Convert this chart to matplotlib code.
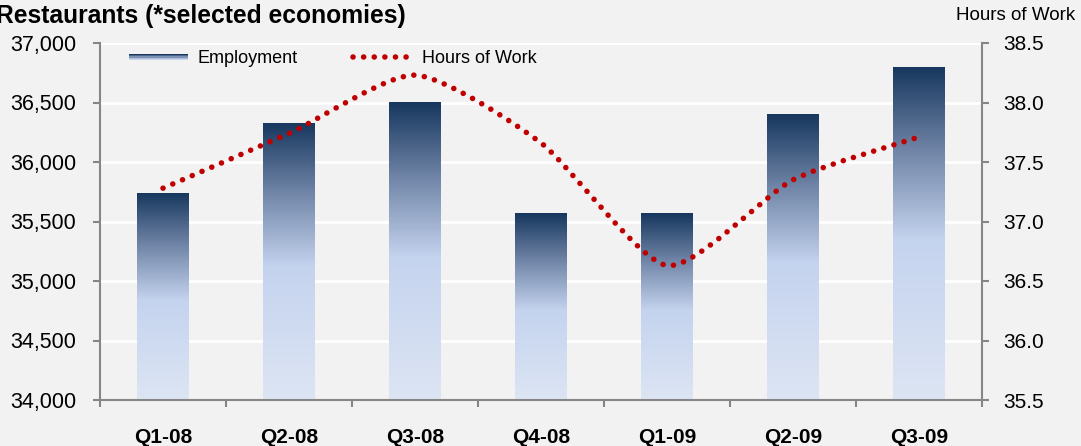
import numpy as np
import matplotlib
matplotlib.use("Agg")
import matplotlib.pyplot as plt
from matplotlib.colors import LinearSegmentedColormap
from matplotlib.path import Path
from matplotlib.patches import PathPatch, Rectangle
from matplotlib.lines import Line2D
from matplotlib.legend_handler import HandlerBase

plt.rcParams["font.family"] = ["Liberation Sans", "DejaVu Sans"]

quarters = ["Q1-08", "Q2-08", "Q3-08", "Q4-08", "Q1-09", "Q2-09", "Q3-09"]
employment = [35740, 36330, 36500, 35570, 35570, 36400, 36800]
hours = [37.28, 37.74, 38.23, 37.66, 36.63, 37.35, 37.71]

bg = "#F2F2F2"
navy = "#17375E"
red = "#C00000"
spine_col = "#868686"

grad = LinearSegmentedColormap.from_list(
    "emp", [(0.0, "#DDE5F4"), (0.48, "#C4D3EE"), (0.75, "#6F84A6"), (1.0, navy)]
)


class GradHandler(HandlerBase):
    def create_artists(self, legend, orig, xd, yd, w, h, fontsize, trans):
        arts = []
        n = 5
        hh = h * 0.42
        y0 = h / 2 - hh / 2 - yd
        for i in range(n):
            c = grad(1 - i / (n - 1) * 0.6)
            r = Rectangle((-xd, y0 + hh - (i + 1) * hh / n), w, hh / n,
                          facecolor=c, edgecolor="none", transform=trans)
            arts.append(r)
        return arts


fig = plt.figure(figsize=(10.81, 4.46), dpi=100, facecolor=bg)
ax = fig.add_axes([100 / 1081, 1 - 400 / 446, 882 / 1081, 357 / 446])
ax.set_facecolor(bg)

x = np.arange(len(quarters))
bw = 0.41
bars = ax.bar(x, employment, width=bw, bottom=0, color="none", edgecolor="none")

g = np.linspace(0, 1, 256).reshape(-1, 1)
for xi, val, b in zip(x, employment, bars):
    im = ax.imshow(g, cmap=grad, origin="lower", aspect="auto",
                   extent=[xi - bw / 2, xi + bw / 2, 34000, val], zorder=2)
    im.set_clip_path(b)

ax.set_xlim(-0.5, len(quarters) - 0.5)
ax.set_ylim(34000, 37000)
ax.set_yticks(np.arange(34000, 37001, 500))
ax.set_yticklabels([f"{v:,}" for v in range(34000, 37001, 500)], fontsize=15.5)
ax.yaxis.grid(True, color="white", lw=2)
ax.set_axisbelow(True)

ax.set_xticks(x)
ax.set_xticklabels(quarters, fontsize=15, fontweight="bold")
ax.set_xticks(np.arange(-0.5, len(quarters), 1), minor=True)
ax.tick_params(axis="x", which="major", length=0, pad=20)
ax.tick_params(axis="x", which="minor", length=5, width=1.5, color=spine_col)
ax.tick_params(axis="y", length=5, width=1.5, color=spine_col, pad=12)

for s in ["top", "right"]:
    ax.spines[s].set_visible(False)
for s in ["left", "bottom"]:
    ax.spines[s].set_color(spine_col)
    ax.spines[s].set_linewidth(1.5)

ax2 = ax.twinx()
ax2.set_ylim(35.5, 38.5)
ax2.set_yticks(np.arange(35.5, 38.51, 0.5))
ax2.set_yticklabels([f"{v:.1f}" for v in np.arange(35.5, 38.51, 0.5)], fontsize=15)
ax2.tick_params(axis="y", length=5, width=1.5, color=spine_col, pad=10)
for s in ["top", "left", "bottom"]:
    ax2.spines[s].set_visible(False)
ax2.spines["right"].set_color(spine_col)
ax2.spines["right"].set_linewidth(1.5)

# smoothed line (Excel-like) drawn as bezier path through the data points
k = 9.0
pts = np.column_stack([x, hours]).astype(float)
n = len(pts)
verts = [pts[0]]
codes = [Path.MOVETO]
for i in range(n - 1):
    p0 = pts[max(i - 1, 0)]
    p1 = pts[i]
    p2 = pts[i + 1]
    p3 = pts[min(i + 2, n - 1)]
    verts += [p1 + (p2 - p0) / k, p2 - (p3 - p1) / k, p2]
    codes += [Path.CURVE4] * 3
line = PathPatch(Path(verts, codes), fill=False, edgecolor=red, lw=4,
                 linestyle=(0, (0.01, 1.9)), capstyle="round", zorder=3)
ax2.add_patch(line)

h_emp = Rectangle((0, 0), 1, 1)
h_hrs = Line2D([], [], color=red, lw=4, linestyle=(0, (0.01, 1.9)),
               dash_capstyle="round")
ax.legend([h_emp, h_hrs], ["Employment", "Hours of Work"], ncol=2,
          handler_map={Rectangle: GradHandler()}, loc="upper left",
          bbox_to_anchor=(0.014, 1.025), frameon=False, fontsize=13,
          handlelength=3.3, columnspacing=3.1, handletextpad=0.5)

fig.text(-0.004, 0.99, "Restaurants (*selected economies)", fontsize=17.7,
         fontweight="bold", ha="left", va="top")
fig.text(0.995, 0.985, "Hours of Work", fontsize=13.5, ha="right", va="top")

fig.savefig("out.png", dpi=100, facecolor=bg)
